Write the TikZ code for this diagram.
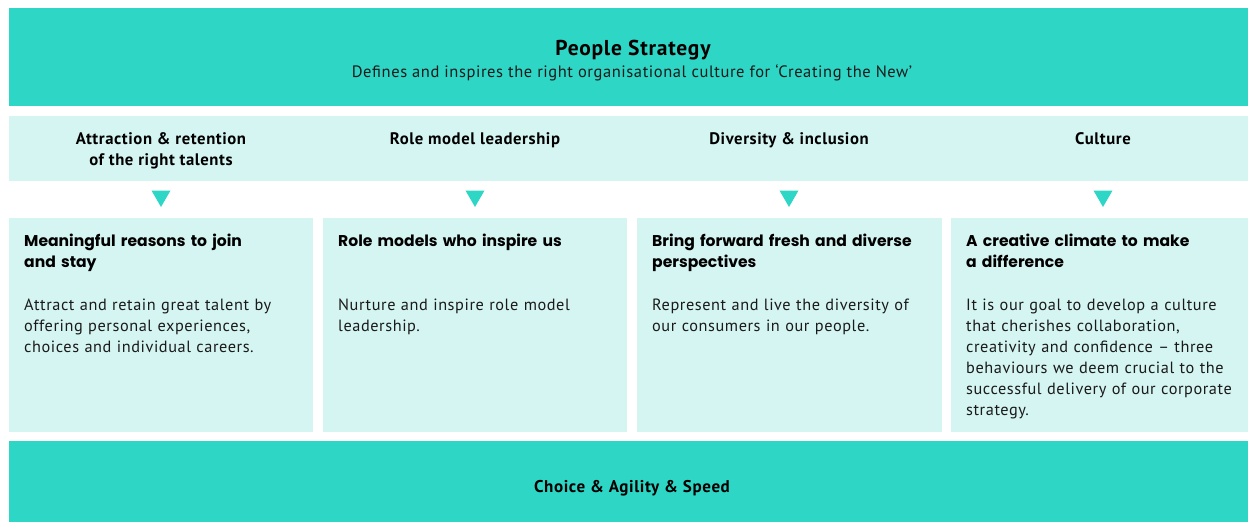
\documentclass[tikz,border=0pt]{standalone}
\usepackage{fontspec}
\setmainfont{PT Sans}[LetterSpace=3.5]
\newfontfamily\titlefont{Poppins}
\usetikzlibrary{shapes.geometric}
\definecolor{teal1}{HTML}{2ED6C5}
\definecolor{light1}{HTML}{D4F5F2}
\definecolor{ink}{HTML}{1A1A1A}
\tikzset{
  band/.style={fill=teal1, draw=none},
  lband/.style={fill=light1, draw=none},
  pillar/.style={fill=light1, draw=none},
  headlbl/.style={anchor=north, inner sep=0pt, align=center, text=black,
    font=\fontsize{16.7}{21}\selectfont\bfseries},
  boxtitle/.style={anchor=north west, inner sep=0pt, align=left, text width=275pt, text=black,
    font=\titlefont\fontsize{15.6}{21}\selectfont\bfseries},
  boxbody/.style={anchor=north west, inner sep=0pt, align=left, text width=290pt, text=ink,
    font=\fontsize{16.3}{21}\selectfont},
  tri/.style={regular polygon, regular polygon sides=3, shape border rotate=180,
    fill=teal1, draw=none, inner sep=0pt, minimum size=22pt}
}
\begin{document}
\begin{tikzpicture}[x=1pt,y=-1pt]
\useasboundingbox (0,0) rectangle (1248,522);
% top band
\fill[band] (9,8) rectangle (1248,106);
\node[anchor=base, inner sep=0pt, font=\fontsize{21.5}{24}\selectfont\bfseries] (ps) at (633,55) {People Strategy};
\node[anchor=base, inner sep=0pt, font=\fontsize{16.5}{20}\selectfont, text=ink] (psd) at (632,77) {Defines and inspires the right organisational culture for `Creating the New'};
% light band
\fill[lband] (9,116) rectangle (1248,181);
\node[headlbl] (h1) at (161,132) {Attraction \& retention\\of the right talents};
\node[headlbl] (h2) at (475,132) {Role model leadership};
\node[headlbl] (h3) at (789,132) {Diversity \& inclusion};
\node[headlbl] (h4) at (1103,132) {Culture};
% triangles
\node[tri] (t1) at (161,196) {};
\node[tri] (t2) at (475,196) {};
\node[tri] (t3) at (789,196) {};
\node[tri] (t4) at (1103,196) {};
% pillar boxes
\fill[pillar] (9,218) rectangle (313,432);
\fill[pillar] (323,218) rectangle (627,432);
\fill[pillar] (637,218) rectangle (942,432);
\fill[pillar] (951,218) rectangle (1248,432);
\node[boxtitle] (b1t) at (24,234) {Meaningful reasons to join\\and stay};
\node[boxbody] (b1b) at (24,298.5) {Attract and retain great talent by\\offering personal experiences,\\choices and individual careers.};
\node[boxtitle] (b2t) at (338,234) {Role models who inspire us};
\node[boxbody] (b2b) at (338,298.5) {Nurture and inspire role model\\leadership.};
\node[boxtitle] (b3t) at (652,234) {Bring forward fresh and diverse\\perspectives};
\node[boxbody] (b3b) at (652,298.5) {Represent and live the diversity of\\our consumers in our people.};
\node[boxtitle] (b4t) at (966,234) {A creative climate to make\\a difference};
\node[boxbody] (b4b) at (966,298.5) {It is our goal to develop a culture\\that cherishes collaboration,\\creativity and confidence -- three\\behaviours we deem crucial to the\\successful delivery of our corporate\\strategy.};
% bottom band
\fill[band] (9,441) rectangle (1248,522);
\node[anchor=base, inner sep=0pt, font=\fontsize{17}{20}\selectfont\bfseries] (cas) at (632,492) {Choice \& Agility \& Speed};
\end{tikzpicture}
\end{document}
